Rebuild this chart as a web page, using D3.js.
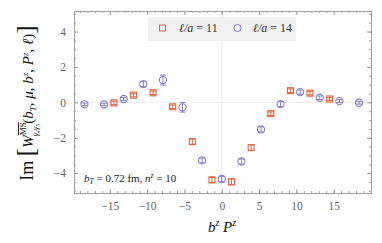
<!DOCTYPE html>
<html>
<head>
<meta charset="utf-8">
<script src="https://cdn.jsdelivr.net/npm/d3@7"></script>
<style>
  body { margin: 0; background: #fff; }
  text { font-family: "Liberation Serif", "DejaVu Serif", serif; }
</style>
</head>
<body>
<div id="app"></div>
<script>
// data
const redX = [-14.45, -11.82, -9.2, -6.57, -3.94, -1.31, 1.31, 3.94, 6.57, 9.2, 11.82, 14.45]
const redY = [-0.03, 0.41, 0.54, -0.25, -2.22, -4.38, -4.49, -2.56, -0.64, 0.66, 0.52, 0.19]
const redErr = [0.1, 0.1, 0.1, 0.1, 0.15, 0.15, 0.17, 0.15, 0.1, 0.1, 0.1, 0.08]

const blueX = [-18.4, -15.77, -13.14, -10.51, -7.88, -5.26, -2.63, 0, 2.63, 5.26, 7.88, 10.51, 13.14, 15.77, 18.4]
const blueY = [-0.11, -0.12, 0.19, 1.03, 1.26, -0.28, -3.28, -4.33, -3.34, -1.53, -0.1, 0.58, 0.26, 0.07, -0.02]
const blueErr = [0.07, 0.07, 0.08, 0.14, 0.28, 0.27, 0.13, 0.15, 0.14, 0.14, 0.14, 0.12, 0.1, 0.08, 0.08]

const xTicks = [-15, -10, -5, 0, 5, 10, 15]
const yTicks = [-4, -2, 0, 2, 4]
const legendLabels = ["ℓ/a = 11", "ℓ/a = 14"]

const w = 382, h = 243
const padL = 74, padR = 371, padT = 11, padB = 193
const redC = "#e8603c", blueC = "#8a80cc", frameC = "#a0a0a0"

const svg = d3.select("#app").append("svg")
    .attr("width", w)
    .attr("height", h)

const x = d3.scaleLinear().domain([-19.8, 20]).range([padL, padR])
const y = d3.scaleLinear().domain([-5.12, 5.16]).range([padB, padT])

// zero lines
svg.append("line")
    .attr("x1", x(0)).attr("x2", x(0)).attr("y1", padT).attr("y2", padB)
    .attr("stroke", "#ededed")
svg.append("line")
    .attr("x1", padL).attr("x2", padR).attr("y1", y(0)).attr("y2", y(0))
    .attr("stroke", "#ededed")

// frame with ticks on all sides
const xMinor = d3.range(-19, 20, 1)
const yMinor = d3.range(-5, 5.01, 0.5)

function addAxis(axis, tr) {
    const g = svg.append("g").attr("transform", tr).call(axis)
    g.select(".domain").attr("stroke", frameC)
    g.selectAll(".tick line").attr("stroke", frameC)
    g.selectAll("text")
        .style("font-family", "Liberation Serif, serif")
        .style("font-size", "11.5px")
        .attr("fill", "#666")
    return g
}

addAxis(d3.axisBottom(x).tickValues(xMinor).tickSize(-2).tickSizeOuter(0).tickFormat(""), `translate(0,${padB})`)
addAxis(d3.axisTop(x).tickValues(xMinor).tickSize(-2).tickSizeOuter(0).tickFormat(""), `translate(0,${padT})`)
addAxis(d3.axisLeft(y).tickValues(yMinor).tickSize(-2).tickSizeOuter(0).tickFormat(""), `translate(${padL},0)`)
addAxis(d3.axisRight(y).tickValues(yMinor).tickSize(-2).tickSizeOuter(0).tickFormat(""), `translate(${padR},0)`)

const fmt = d => d < 0 ? "\u2212" + Math.abs(d) : "" + d
addAxis(d3.axisBottom(x).tickValues(xTicks).tickSize(-4).tickSizeOuter(0).tickPadding(9).tickFormat(fmt), `translate(0,${padB})`)
addAxis(d3.axisTop(x).tickValues(xTicks).tickSize(-4).tickSizeOuter(0).tickFormat(""), `translate(0,${padT})`)
addAxis(d3.axisLeft(y).tickValues(yTicks).tickSize(-4).tickSizeOuter(0).tickPadding(8).tickFormat(fmt), `translate(${padL},0)`)
addAxis(d3.axisRight(y).tickValues(yTicks).tickSize(-4).tickSizeOuter(0).tickFormat(""), `translate(${padR},0)`)

// legend
const leg = svg.append("g")
leg.append("rect")
    .attr("x", 148).attr("y", 17).attr("width", 148).attr("height", 24)
    .attr("fill", "#f2f2f2")
leg.append("rect")
    .attr("x", 159.5).attr("y", 25).attr("width", 6).attr("height", 6)
    .attr("fill", "none").attr("stroke", redC)
leg.append("circle")
    .attr("cx", 237.5).attr("cy", 28).attr("r", 3.6)
    .attr("fill", "none").attr("stroke", blueC)
const lt = leg.selectAll(".lt")
    .data(legendLabels)
    .enter()
    .append("text")
    .attr("x", (d, i) => i == 0 ? 179 : 253)
    .attr("y", 32)
    .style("font-size", "12px")
    .attr("fill", "#333")
lt.append("tspan").style("font-style", "italic").text(d => d.split(" = ")[0])
lt.append("tspan").text(d => " = " + d.split(" = ")[1])

// points with error bars
function drawSeries(xs, ys, es, color, shape) {
    const g = svg.append("g")
    const pts = xs.map((d, i) => ({ x: d, y: ys[i], e: es[i] }))
    const eb = g.selectAll(".eb").data(pts).enter().append("g")
    eb.append("line")
        .attr("x1", d => x(d.x)).attr("x2", d => x(d.x))
        .attr("y1", d => y(d.y - d.e)).attr("y2", d => y(d.y + d.e))
        .attr("stroke", color)
    eb.append("line")
        .attr("x1", d => x(d.x) - 3).attr("x2", d => x(d.x) + 3)
        .attr("y1", d => y(d.y - d.e)).attr("y2", d => y(d.y - d.e))
        .attr("stroke", color)
    eb.append("line")
        .attr("x1", d => x(d.x) - 3).attr("x2", d => x(d.x) + 3)
        .attr("y1", d => y(d.y + d.e)).attr("y2", d => y(d.y + d.e))
        .attr("stroke", color)
    if (shape == "square") {
        g.selectAll(".m").data(pts).enter().append("rect")
            .attr("x", d => x(d.x) - 3).attr("y", d => y(d.y) - 3)
            .attr("width", 6).attr("height", 6)
            .attr("fill", "none").attr("stroke", color).attr("stroke-width", 1.1)
    } else {
        g.selectAll(".m").data(pts).enter().append("circle")
            .attr("cx", d => x(d.x)).attr("cy", d => y(d.y)).attr("r", 3.6)
            .attr("fill", "none").attr("stroke", color).attr("stroke-width", 1.1)
    }
}
drawSeries(blueX, blueY, blueErr, blueC, "circle")
drawSeries(redX, redY, redErr, redC, "square")

// annotation
const ann = svg.append("text")
    .attr("x", 84).attr("y", 182)
    .style("font-size", "11px")
    .attr("fill", "#222")
ann.append("tspan").style("font-style", "italic").text("b")
ann.append("tspan").attr("dy", 2).style("font-size", "7.5px").style("font-style", "italic").text("T")
ann.append("tspan").attr("dy", -2).text(" = 0.72 fm, ")
ann.append("tspan").style("font-style", "italic").text("n")
ann.append("tspan").attr("dy", -4).style("font-size", "7.5px").style("font-style", "italic").text("z")
ann.append("tspan").attr("dy", 4).text(" = 10")

// x label
const xl = svg.append("text")
    .attr("x", 222).attr("y", 232)
    .attr("text-anchor", "middle")
    .style("font-size", "15px")
    .style("font-style", "italic")
    .attr("fill", "#111")
xl.append("tspan").text("b")
xl.append("tspan").attr("dy", -6).style("font-size", "10px").text("z")
xl.append("tspan").attr("dy", 6).text(" P")
xl.append("tspan").attr("dy", -6).style("font-size", "10px").text("z")

// y label
const yl = svg.append("text")
    .attr("transform", "translate(33," + 103 + ") rotate(-90)")
    .attr("text-anchor", "middle")
    .style("font-size", "15px")
    .attr("fill", "#111")
yl.append("tspan").style("font-size", "18px").text("Im ")
yl.append("tspan").style("font-size", "25px").attr("dy", 1).text("[")
yl.append("tspan").style("font-style", "italic").attr("dy", -1).text("W")
yl.append("tspan").style("font-size", "9px").attr("dy", -7).style("text-decoration", "overline").text("MS")
yl.append("tspan").style("font-size", "8.5px").style("font-style", "italic").attr("dx", -14).attr("dy", 12).text("γ₄γ₅")
yl.append("tspan").attr("dy", -5).text("(")
yl.append("tspan").style("font-style", "italic").text("b")
yl.append("tspan").style("font-size", "9px").style("font-style", "italic").attr("dy", 3).text("T")
yl.append("tspan").attr("dy", -3).text(", ")
yl.append("tspan").style("font-style", "italic").text("μ")
yl.append("tspan").text(", ")
yl.append("tspan").style("font-style", "italic").text("b")
yl.append("tspan").style("font-size", "9px").style("font-style", "italic").attr("dy", -5).text("z")
yl.append("tspan").attr("dy", 5).text(", ")
yl.append("tspan").style("font-style", "italic").text("P")
yl.append("tspan").style("font-size", "9px").style("font-style", "italic").attr("dy", -5).text("z")
yl.append("tspan").attr("dy", 5).text(", ")
yl.append("tspan").style("font-style", "italic").text("ℓ")
yl.append("tspan").text(")")
yl.append("tspan").style("font-size", "25px").attr("dy", 1).text("]")
</script>
</body>
</html>
